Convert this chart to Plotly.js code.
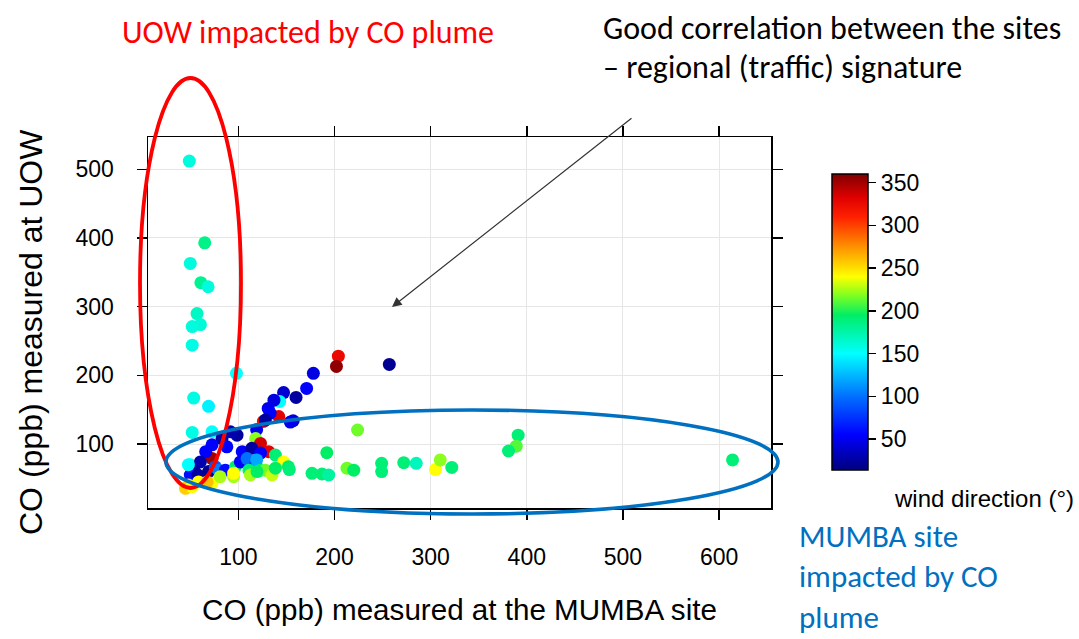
<!DOCTYPE html>
<html>
<head>
<meta charset="utf-8">
<script src="https://cdn.plot.ly/plotly-3.0.1.min.js"></script>
<style>html,body{margin:0;padding:0;background:#fff;}#chart{width:1079px;height:639px;}</style>
</head>
<body>
<div id="chart"></div>
<script>
// CO (ppb) measured at the MUMBA site
const mumbaCO = [49,65,50,61,68.5,57,60.5,52,52,98,53.5,69,52,72.6,50,
  204,202,257,178,171,147,160,143,137,131,142,157,133,126,119,118,123,131.5,138.5,98.6,128,154,83,91.7,104,114,123,88,72.6,72.6,66,60.5,53.5,50,48,58,69,76,79.5,86.5,95,97,102,109,118,119,111,123,128,147,152,135,58.6,48,45,52,72.6,67.5,81,95,112.5,119.4,138.5,
  192,224,153,176.6,187,194,213,220,249,249,272,285,305,310,322,391,389,381,614];
// CO (ppb) measured at UOW
const uowCO = [512,393,363,335,329,290,274,271,244,203,167,155,117,118,70,
  228,213,216,203,181,175,168,162,164,152,140,134,145,133,121,108,101,89,84,113,135,132,108,118,89,94,87,96,99,79,89,74,62,55,70,55,60,67,62,62,52.5,67,74,79,72,77,62,62,62,74,67,55,45,40.5,35.6,38,43,45,52.5,57.5,55,60,65,
  87.5,120.5,63,57.5,56.5,55,65,62,72,60,73,72,63,77,66,113,97,90,77];
// wind direction (degrees)
const windDir = [160,185,160,182,160,168,162,160,158,150,158,145,158,150,155,
  325,355,20,45,55,40,25,150,45,50,330,40,55,320,50,220,335,330,190,25,25,50,25,30,55,25,55,55,55,350,55,30,25,60,150,25,20,90,105,60,225,195,55,100,80,120,190,195,215,240,195,230,240,245,255,240,240,260,225,240,225,195,195,
  195,215,190,190,190,178,215,195,190,190,190,170,240,220,190,190,210,190,190];

const xTicks = [100,200,300,400,500,600];
const yTicks = [100,200,300,400,500];
const cTicks = [50,100,150,200,250,300,350];

const W = 1079, H = 639, L = 148, R = 771, T = 137, B = 508;
const px = v => (v - L) / (R - L);
const py = v => (B - v) / (B - T);

const jet = [
  [0.0, '#00007F'], [0.1185, '#0000FF'], [0.2486, '#0070FF'], [0.393, '#00FFFF'],
  [0.523, '#00EE66'], [0.59, '#80FF20'], [0.653, '#FFFF00'], [0.74, '#FFA000'],
  [0.855, '#FF2000'], [0.92, '#E00000'], [1.0, '#800000']
];

const arial = 'Liberation Sans, Arial, sans-serif';

const trace = {
  type: 'scatter', mode: 'markers',
  x: mumbaCO, y: uowCO,
  marker: {
    size: 13, color: windDir, cmin: 14, cmax: 360, colorscale: jet,
    line: {width: 0},
    colorbar: {
      x: px(832), xanchor: 'left', xpad: 0, ypad: 0,
      y: py(322), yanchor: 'middle', lenmode: 'pixels', len: 296,
      thickness: 36, outlinecolor: '#000', outlinewidth: 1.5,
      tickvals: cTicks, ticks: 'outside', ticklen: 8, tickcolor: '#000', tickwidth: 1.5,
      tickfont: {family: arial, size: 23, color: '#000'}
    }
  },
  hoverinfo: 'x+y'
};

const calib = "Carlito, 'Liberation Sans Narrow', 'Open Sans', sans-serif";
const ann = (text, x, y, xa, color, size, family) => ({
  text, xref: 'paper', yref: 'paper', x: px(x), y: py(y), xanchor: xa, yanchor: 'middle',
  showarrow: false, font: {family: family || calib, size: size || 32, color: color || '#000'}
});

const yTitle = ann('CO (ppb) measured at UOW', 31, 332, 'center', '#000', 32, arial);
yTitle.textangle = -90;

const mumbaNote = ann('MUMBA site<br>impacted by CO<br>plume', 797, 638, 'left', '#0070C0', 31);
mumbaNote.yanchor = 'bottom';
mumbaNote.align = 'left';

const layout = {
  width: W, height: H, autosize: false,
  margin: {l: L, r: W - R, t: T, b: H - B, pad: 0},
  paper_bgcolor: '#fff', plot_bgcolor: '#fff',
  showlegend: false,
  xaxis: {
    range: [6, 654], tickvals: xTicks, ticks: 'outside', ticklen: 10, tickwidth: 1.5, tickcolor: '#000',
    showline: true, linecolor: '#000', linewidth: 1.5, mirror: 'ticks',
    showgrid: true, gridcolor: '#E6E6E6', gridwidth: 1, zeroline: false,
    tickfont: {family: arial, size: 23, color: '#000'},
    ticklabelstandoff: 18, automargin: true,
    title: {text: 'CO (ppb) measured at the MUMBA site', standoff: 30,
      font: {family: arial, size: 29.6, color: '#000'}}
  },
  yaxis: {
    range: [7, 547], tickvals: yTicks, ticks: 'outside', ticklen: 10, tickwidth: 1.5, tickcolor: '#000',
    showline: true, linecolor: '#000', linewidth: 1.5, mirror: 'ticks',
    showgrid: true, gridcolor: '#E6E6E6', gridwidth: 1, zeroline: false,
    tickfont: {family: arial, size: 23, color: '#000'},
    ticklabelstandoff: 18, automargin: false
  },
  shapes: [
    {type: 'circle', xref: 'paper', yref: 'paper', x0: px(140), x1: px(241), y0: py(488), y1: py(78),
      line: {color: '#FF0000', width: 3.8}},
    {type: 'circle', xref: 'paper', yref: 'paper', x0: px(166), x1: px(778), y0: py(514), y1: py(410),
      line: {color: '#0070C0', width: 3.6}}
  ],
  annotations: [
    yTitle,
    ann('UOW impacted by CO plume', 308, 32, 'center', '#FF0000'),
    ann('Good correlation between the sites', 601, 28, 'left', '#000'),
    ann('– regional (traffic) signature', 601, 67, 'left', '#000'),
    mumbaNote,
    ann('wind direction (°)', 892, 498, 'left', '#000', 24, arial),
    {text: '', xref: 'paper', yref: 'paper', x: px(392), y: py(307), axref: 'pixel', ayref: 'pixel',
      ax: 633 - 392, ay: 117 - 307, showarrow: true, arrowhead: 2, arrowsize: 1.6, arrowwidth: 1.2,
      arrowcolor: '#333'}
  ]
};

Plotly.newPlot('chart', [trace], layout, {displayModeBar: false, staticPlot: true});
</script>
</body>
</html>
